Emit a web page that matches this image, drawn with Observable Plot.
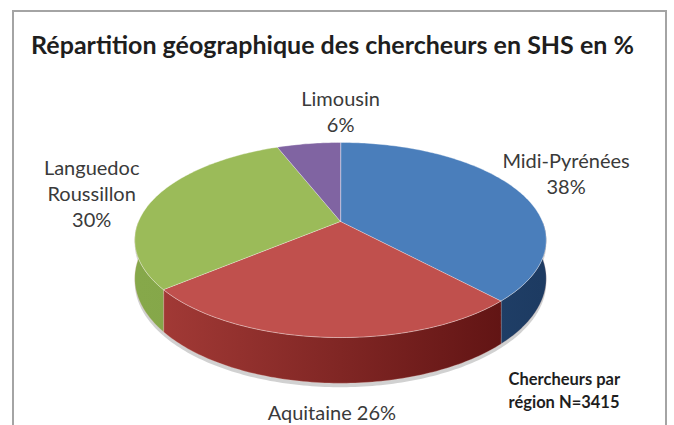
<!DOCTYPE html>
<html><head><meta charset="utf-8">
<script src="https://cdn.jsdelivr.net/npm/d3@7"></script>
<script src="https://cdn.jsdelivr.net/npm/@observablehq/plot@0.6"></script>
<style>
html,body{margin:0;padding:0;background:#fff;}
#wrap{position:relative;width:674px;height:425px;overflow:hidden;}
#frame{position:absolute;left:12px;top:10px;width:651px;height:440px;border:2px solid #a4a4a4;border-bottom:none;pointer-events:none;z-index:2;}
</style></head><body><div id="wrap"><div id="frame"></div></div>
<script>
// ---- data ----
const regions = ["Midi-Pyrénées", "Aquitaine", "Languedoc Roussillon", "Limousin"];
const percents = [38, 26, 30, 6];
const title = "Répartition géographique des chercheurs en SHS en %";
const noteLines = ["Chercheurs par", "région N=3415"];

// ---- styles ----
const topColors = ["#4a7ebb", "#c0504d", "#9bbb59", "#8064a2"];
const wallColors = [["#2f5688", "#1d3b62"], ["#a63c38", "#5a1010"], ["#86a84a", "#789a40"], ["#5e4880", "#4a3868"]];
const labelLayouts = [
  {sep: "\n", split: false, dx: 50, dy: -16},
  {sep: " ", split: false, dx: 7, dy: 74},
  {sep: "\n", split: true, dx: -62, dy: -6},
  {sep: "\n", split: false, dx: 32, dy: -33}
];

// ---- geometry: perspective view of a tilted disc ----
const W = 674, H = 425;
const CX = 340, A = 202, K = -0.1897, B = 52.1, C = 221, D = 37;
function proj(theta, r = 1) {
  const u = r * Math.sin(theta), v = -r * Math.cos(theta);
  const w = 1 + K * v;
  return [CX + A * u / w, (B * v + C) / w, w];
}
const total = d3.sum(percents);
let acc = 0;
const slices = regions.map((name, i) => {
  const a0 = acc / total * 2 * Math.PI;
  acc += percents[i];
  const a1 = acc / total * 2 * Math.PI;
  return {i, name, value: percents[i], a0, a1};
});
function arc(a0, a1) {
  const n = Math.max(2, Math.ceil((a1 - a0) / (Math.PI / 180)));
  return d3.range(n + 1).map(k => a0 + (a1 - a0) * k / n);
}
const topPts = slices.flatMap(s => [[CX, C], ...arc(s.a0, s.a1).map(t => proj(t))].map(([x, y]) => ({slice: s.i, x, y})));
const F0 = Math.PI / 2, F1 = 3 * Math.PI / 2;
const wallPts = slices.flatMap(s => {
  const a0 = Math.max(s.a0, F0), a1 = Math.min(s.a1, F1);
  if (a1 <= a0) return [];
  const ts = arc(a0, a1);
  const upper = ts.map(t => proj(t));
  const lower = ts.slice().reverse().map(t => { const [x, y, w] = proj(t); return [x, y + D / w]; });
  return [...upper, ...lower].map(([x, y]) => ({slice: s.i, x, y}));
});
const labels = slices.map(s => {
  const lay = labelLayouts[s.i];
  const [x, y] = proj((s.a0 + s.a1) / 2);
  const name = lay.split ? s.name.replace(" ", "\n") : s.name;
  return {x: x + lay.dx, y: y + lay.dy, text: `${name}${lay.sep}${s.value}%`};
});

function defs() {
  const ns = "http://www.w3.org/2000/svg";
  const d = document.createElementNS(ns, "defs");
  wallColors.forEach((c, i) => {
    const g = document.createElementNS(ns, "linearGradient");
    g.setAttribute("id", "wall" + i);
    g.setAttribute("gradientUnits", "userSpaceOnUse");
    g.setAttribute("x1", CX - A); g.setAttribute("x2", CX + A);
    g.setAttribute("y1", 0); g.setAttribute("y2", 0);
    [[0, c[0]], [1, c[1]]].forEach(([o, col]) => {
      const st = document.createElementNS(ns, "stop");
      st.setAttribute("offset", o); st.setAttribute("stop-color", col);
      g.appendChild(st);
    });
    d.appendChild(g);
  });
  const f = document.createElementNS(ns, "filter");
  f.setAttribute("id", "blur");
  f.innerHTML = '<feGaussianBlur stdDeviation="4"/>';
  d.appendChild(f);
  const g = document.createElementNS(ns, "g");
  g.appendChild(d);
  return g;
}

const font = "Lato, sans-serif";
const chart = Plot.plot({
  width: W, height: H, margin: 0,
  x: {domain: [0, W], range: [0, W], axis: null},
  y: {domain: [0, H], range: [0, H], axis: null},
  style: {fontFamily: font, background: "transparent"},
  marks: [
    defs,
    Plot.line(wallPts, {x: "x", y: "y", z: "slice", curve: "linear-closed", fill: "#000", fillOpacity: 0.18, stroke: "none", dy: 4, style: {filter: "url(#blur)"}}),
    ...slices.map(s => Plot.line(wallPts.filter(p => p.slice === s.i), {x: "x", y: "y", curve: "linear-closed", fill: `url(#wall${s.i})`, stroke: "#e8c0b8", strokeOpacity: 0.35, strokeWidth: 0.8})),
    ...slices.map(s => Plot.line(topPts.filter(p => p.slice === s.i), {x: "x", y: "y", curve: "linear-closed", fill: topColors[s.i], stroke: "#ffffff", strokeOpacity: 0.45, strokeWidth: 0.8})),
    Plot.text(labels, {x: "x", y: "y", text: "text", fontSize: 20, lineHeight: 1.3, fill: "#3a3a3a", lineAnchor: "middle"}),
    Plot.text([title], {frameAnchor: "top", dx: -5, dy: 45, text: d => d, fontSize: 25, fontWeight: "bold", fill: "#1e1e1e", lineAnchor: "middle"}),
    Plot.text([noteLines.join("\n")], {frameAnchor: "bottom-left", dx: 508, dy: -36, text: d => d, fontSize: 16.5, fontWeight: "bold", fill: "#1e1e1e", lineAnchor: "middle", textAnchor: "start", lineHeight: 1.4})
  ]
});
document.getElementById("wrap").appendChild(chart);
</script></body></html>
